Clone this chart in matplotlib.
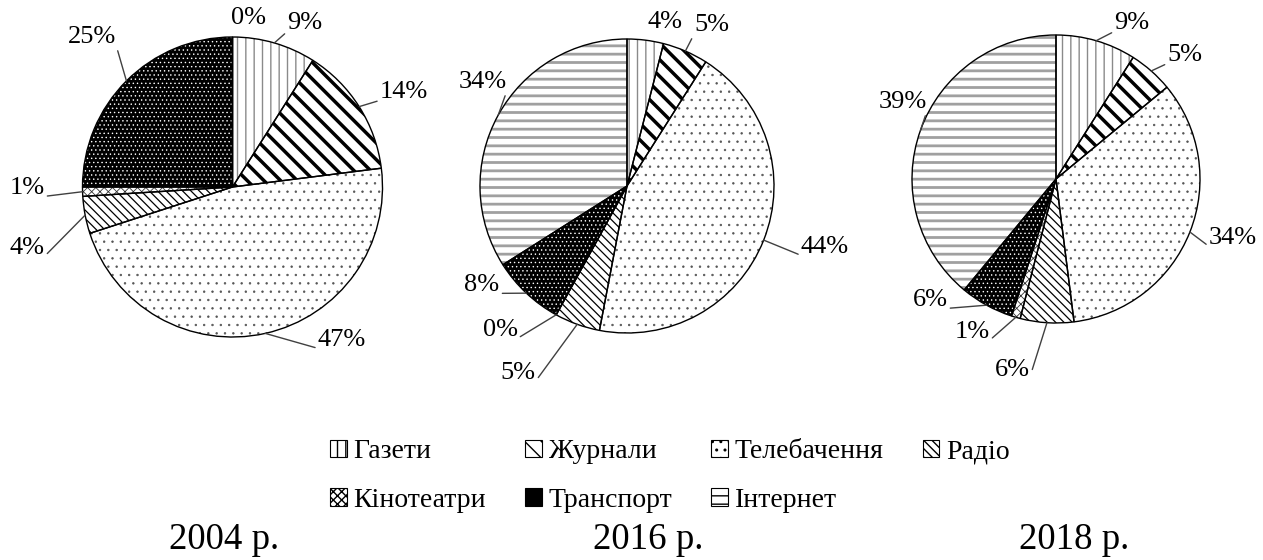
import numpy as np
import matplotlib
matplotlib.use('Agg')
import matplotlib.pyplot as plt
from matplotlib.patches import Patch

plt.rcParams['font.family'] = ['Liberation Serif', 'DejaVu Serif']

# data
categories = ['Газети', 'Журнали', 'Телебачення', 'Радіо', 'Кінотеатри', 'Транспорт', 'Інтернет']
share_2004 = [9, 14, 47, 4, 1, 25, 0]
share_2016 = [4, 5, 44, 5, 0, 8, 34]
share_2018 = [9, 5, 34, 6, 1, 6, 39]
years = ['2004 р.', '2016 р.', '2018 р.']

# styles per category: face, hatch, hatch colour, hatch width
faces = ['white', 'white', 'white', 'white', 'white', 'black', 'white']
hatches = ['||', '\\\\', '..', '\\\\\\\\', 'xxxx', '....', '--']
hatch_cols = ['#8a8a8a', 'black', '#555555', 'black', '#333333', 'white', '#a0a0a0']
hatch_lws = [1.0, 2.5, 0.5, 0.9, 0.6, 0.5, 2.0]

W, H = 1263, 560
fig = plt.figure(figsize=(W / 100, H / 100), dpi=100)
ax = fig.add_axes([0, 0, 1, 1])
ax.set_xlim(0, W)
ax.set_ylim(0, H)
ax.set_aspect('equal')
ax.axis('off')

# layout in pixels (y from top)
centers = [(232.5, 187), (627, 186), (1056, 179)]
radii = [150, 147, 144]
label_pos = [
    [(305, 23), (404, 92), (342, 340), (27, 248), (27, 188), (92, 37), (248, 18)],
    [(665, 22), (712, 25), (825, 247), (518, 373), (500, 330), (482, 285), (483, 82)],
    [(1132, 23), (1185, 55), (1233, 238), (1012, 370), (972, 332), (930, 300), (903, 102)],
]
has_line = [
    [True, True, True, True, True, True, False],
    [False, True, True, True, True, True, True],
    [True, True, True, True, True, True, True],
]
year_pos = [(224, 540), (648, 540), (1074, 540)]

for k, vals in enumerate([share_2004, share_2016, share_2018]):
    cx, cy = centers[k]
    r = radii[k]
    c = (cx, H - cy)
    wedges, _ = ax.pie(vals, startangle=90, counterclock=False, radius=r, center=c,
                       colors=faces, wedgeprops=dict(linewidth=0))
    for w, h, hc, hl in zip(wedges, hatches, hatch_cols, hatch_lws):
        w.set_hatch(h)
        w.set_edgecolor(hc)
        if hasattr(w, 'set_hatch_linewidth'):
            w.set_hatch_linewidth(hl)
    ax.pie(vals, startangle=90, counterclock=False, radius=r, center=c,
           wedgeprops=dict(fill=False, edgecolor='black', linewidth=1.0))
    ax.set_xlim(0, W)
    ax.set_ylim(0, H)

    total = float(sum(vals))
    cum = np.cumsum([0] + vals)
    for i, v in enumerate(vals):
        mid = np.deg2rad(90 - 360 * (cum[i] + v / 2) / total)
        xy = (cx + r * np.cos(mid), H - cy + r * np.sin(mid))
        tx, ty = label_pos[k][i]
        txt = f'{v}%'
        if has_line[k][i]:
            rel = (0.0, 0.12) if tx > xy[0] else (1.0, 0.12)
            ax.annotate(txt, xy=xy, xytext=(tx, H - ty), ha='center', va='center',
                        fontsize=19,
                        arrowprops=dict(arrowstyle='-', color='#404040', lw=1.0,
                                        shrinkA=0, shrinkB=0, relpos=rel))
        else:
            ax.text(tx, H - ty, txt, ha='center', va='center', fontsize=19)

    ax.text(year_pos[k][0], H - year_pos[k][1], years[k], ha='center', va='center',
            fontsize=26.5)

# legend, reordered so that rows read left to right
order = [0, 4, 1, 5, 2, 6, 3]
handles = []
for i in order:
    p = Patch(facecolor=faces[i], hatch=hatches[i], edgecolor='black', linewidth=0.8,
              label=categories[i])
    handles.append(p)
leg = fig.legend(handles=handles, loc='center', bbox_to_anchor=(670 / W, 1 - 476 / H),
                 ncol=4, frameon=False, fontsize=20, handlelength=0.6, handleheight=0.6,
                 handletextpad=0.25, columnspacing=1.4, labelspacing=0.85)

fig.savefig('out.png', dpi=100)
